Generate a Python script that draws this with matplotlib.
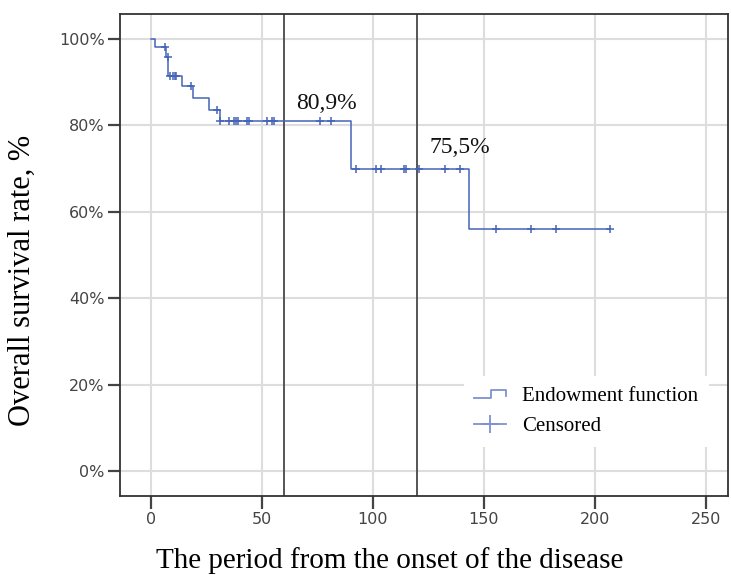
import numpy as np
import matplotlib
matplotlib.use("Agg")
import matplotlib.pyplot as plt
from matplotlib.lines import Line2D
from matplotlib.legend_handler import HandlerBase
from matplotlib.ticker import PercentFormatter

# Kaplan-Meier curve (time, survival in %)
event_times = [0, 1.9, 6.8, 7.8, 13.8, 18.8, 26.1, 30.9, 90.1, 143.3]
survival = [100, 98.1, 95.8, 91.3, 89.0, 86.3, 83.6, 80.9, 70.0, 56.0]
censored_times = [6.3, 7.5, 8.6, 10.0, 10.9, 11.5, 18.0, 29.9, 31.1, 35.3, 37.4,
                  38.3, 39.2, 43.1, 44.3, 52.1, 54.6, 55.5, 76.1, 81.0, 92.3,
                  101.2, 103.6, 114.0, 114.9, 120.9, 132.3, 139.2, 155.3, 171.2,
                  182.3, 206.7]
cut_times = [60, 120]
cut_labels = ["80,9%", "75,5%"]
label_pos = [(65.6, 83.8), (125.4, 73.5)]
x_ticks = [0, 50, 100, 150, 200, 250]
y_ticks = [0, 20, 40, 60, 80, 100]

blue = "#4563b8"
serif = ["Liberation Serif", "DejaVu Serif"]


class StepHandler(HandlerBase):
    # legend symbol drawn as a small step, like SPSS does
    def create_artists(self, legend, orig_handle, xdescent, ydescent,
                       width, height, fontsize, trans):
        lo = -ydescent + height * 0.2
        hi = -ydescent + height * 0.75
        x0 = -xdescent
        xs = [x0, x0 + width * 0.52, x0 + width * 0.52, x0 + width, x0 + width]
        ys = [lo, lo, hi, hi, lo + height * 0.15]
        ln = Line2D(xs, ys, color="#7d93d0", lw=1.3, transform=trans)
        return [ln]


fig = plt.figure(figsize=(7.31, 5.75), dpi=100)
ax = fig.add_axes([0.164, 0.137, 0.832, 0.839])

# step curve up to the last censored time
t_end = max(censored_times)
xs = list(event_times) + [t_end]
ys = list(survival) + [survival[-1]]
ax.step(xs, ys, where="post", color=blue, lw=1.1, zorder=3)

idx = np.searchsorted(event_times, censored_times, side="right") - 1
cens_y = np.array(survival)[idx]
ax.plot(censored_times, cens_y, "+", color=blue, ms=6, mew=1.1, zorder=4)

for t in cut_times:
    ax.axvline(t, color="#555555", lw=1.4, zorder=2)
for txt, (px, py) in zip(cut_labels, label_pos):
    ax.text(px, py, txt, fontsize=17, family=serif,
            color="#111111", va="baseline", ha="left")

ax.set_xlim(-14, 260)
ax.set_ylim(-5.8, 105.8)
ax.set_xticks(x_ticks)
ax.set_yticks(y_ticks)
ax.yaxis.set_major_formatter(PercentFormatter(decimals=0))
ax.grid(True, color="#dddddd", lw=1.5)
ax.set_axisbelow(True)
for s in ax.spines.values():
    s.set_color("#333333")
    s.set_linewidth(1.3)
ax.tick_params(length=9, width=1.6, color="#444444", labelcolor="#444444",
               labelsize=11.5, pad=2)

ax.set_xlabel("The period from the onset of the disease", family=serif,
              fontsize=21, color="black", labelpad=14.5)
ax.set_ylabel("Overall survival rate, %", family=serif, fontsize=22,
              color="black", labelpad=16)
# labels are not centred on the axes in the original
ax.xaxis.label.set_x(0.444)
ax.yaxis.label.set_y(0.448)

h1 = Line2D([], [], color=blue)
h2 = Line2D([0, 1], [0, 0], color="#7d93d0", lw=1.3, marker="+", ms=13,
            mew=1.3, markevery=[0])
leg = ax.legend([h1, h2], ["Endowment function", "Censored"],
                handler_map={h1: StepHandler()},
                loc="upper left", bbox_to_anchor=(0.548, 0.270),
                frameon=True, facecolor="white", edgecolor="white",
                framealpha=1, fancybox=False, prop={"family": serif, "size": 15},
                handlelength=1.55, handletextpad=0.77, labelspacing=0.49,
                numpoints=1, borderpad=0.5)
leg.get_frame().set_linewidth(0)

fig.savefig("out.png", dpi=100)
